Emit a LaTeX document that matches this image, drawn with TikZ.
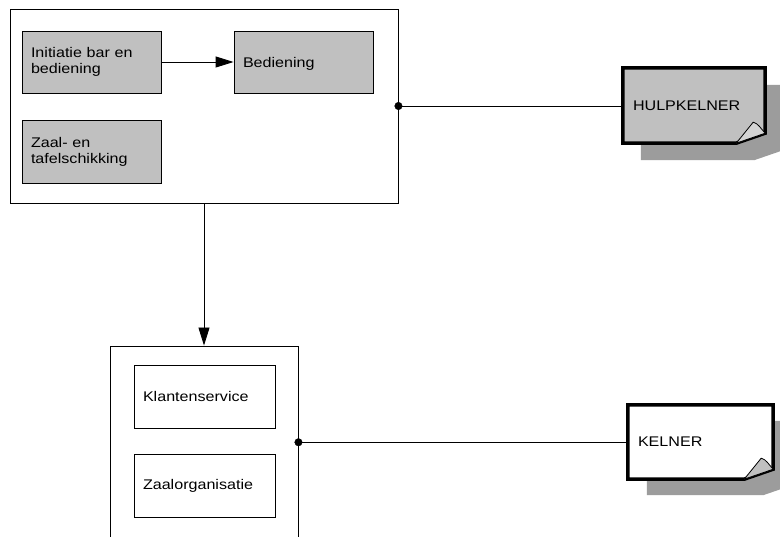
\documentclass[tikz,border=0pt]{standalone}
\usepackage{fontspec}
\setmainfont{Liberation Sans}[FakeStretch=1.15]
\usetikzlibrary{arrows.meta,calc}
\definecolor{boxgray}{HTML}{C0C0C0}
\definecolor{shadowgray}{HTML}{9C9C9C}
\definecolor{flapgray}{HTML}{D4D4D4}
\tikzset{
  frame/.style={draw=black, line width=0.9pt, inner sep=0pt},
  taskbox/.style={draw=black, line width=0.9pt, inner xsep=9pt, inner ysep=0pt, align=left,
    font=\fontsize{14pt}{16pt}\selectfont, anchor=center},
  graytask/.style={taskbox, fill=boxgray},
  notebox/.style={inner xsep=10pt, inner ysep=0pt, align=left, font=\fontsize{14pt}{16pt}\selectfont},
  conn/.style={line width=0.9pt, draw=black},
  dotend/.style={fill=black, draw=black, circle, inner sep=0pt, minimum size=7.5pt},
  notebody/.style={draw=black, line width=3.5pt, line join=miter},
  flap/.style={draw=black, line width=0.8pt, fill=flapgray},
  tip/.style={-{Triangle[length=18pt,width=11pt]}}
}
\begin{document}
\begin{tikzpicture}[x=1pt,y=-1pt]
\useasboundingbox (0,0) rectangle (780,537);
\clip (0,0) rectangle (780,537);
\fill[white] (0,0) rectangle (780,537);

% upper group
\node[frame, minimum width=388pt, minimum height=194pt] (top) at (204,106) {};
\node[graytask, minimum width=139pt, minimum height=62pt, text width=121pt] (init) at (91.5,62) {Initiatie bar en\\bediening};
\node[graytask, minimum width=139pt, minimum height=62pt, text width=121pt, text depth=0pt] (bed) at (303.5,62) {Bediening};
\node[graytask, minimum width=139pt, minimum height=63pt, text width=121pt] (zaal) at (91.5,151.5) {Zaal- en\\tafelschikking};
\draw[conn, tip] (init.east) -- (bed.west);

% lower group
\node[frame, minimum width=188pt, minimum height=192.5pt] (low) at (204,442.25) {};
\node[taskbox, fill=white, minimum width=141pt, minimum height=63pt, text width=123pt] (klant) at (204.5,396.5) {Klantenservice};
\node[taskbox, fill=white, minimum width=141pt, minimum height=63pt, text width=123pt] (zorg) at (204.5,485.5) {Zaalorganisatie};
\draw[conn, tip] (top.south) -- (low.north);

% HULPKELNER note
\node[notebox, minimum width=142pt, minimum height=75pt, text width=122pt] (hk) at (694,105.5) {HULPKELNER};
\fill[shadowgray] ($(hk.north west)+(18,17)$) -- ($(hk.north east)+(18,17)$) -- ($(hk.south east)+(18,7)$) -- ($(hk.south east)+(-11,17)$) -- ($(hk.south west)+(18,17)$) -- cycle;
\draw[notebody, fill=boxgray] (hk.north west) -- (hk.north east) -- ($(hk.south east)+(0,-10)$) -- ($(hk.south east)+(-29,0)$) -- (hk.south west) -- cycle;
\draw[flap] ($(hk.south east)+(-29,0)$) -- ($(hk.south east)+(-12,-21)$) .. controls ($(hk.south east)+(-7,-20)$) and ($(hk.south east)+(-4,-14)$) .. ($(hk.south east)+(0,-10)$) -- cycle;
\node[notebox, text width=122pt] at (hk) {HULPKELNER};

% KELNER note
\node[notebox, minimum width=145pt, minimum height=74pt, text width=125pt] (kel) at (700.5,442) {KELNER};
\fill[shadowgray] ($(kel.north west)+(19,16)$) -- ($(kel.north east)+(19,16)$) -- ($(kel.south east)+(19,6)$) -- ($(kel.south east)+(-10,16)$) -- ($(kel.south west)+(19,16)$) -- cycle;
\draw[notebody, fill=white] (kel.north west) -- (kel.north east) -- ($(kel.south east)+(0,-10)$) -- ($(kel.south east)+(-29,0)$) -- (kel.south west) -- cycle;
\draw[flap, fill=boxgray] ($(kel.south east)+(-29,0)$) -- ($(kel.south east)+(-12,-21)$) .. controls ($(kel.south east)+(-7,-20)$) and ($(kel.south east)+(-4,-14)$) .. ($(kel.south east)+(0,-10)$) -- cycle;
\node[notebox, text width=125pt] at (kel) {KELNER};

% connectors with dots
\draw[conn] (top.east) -- (top.east -| hk.west);
\node[dotend] (d1) at (top.east) {};
\draw[conn] (low.east) -- (low.east -| kel.west);
\node[dotend] (d2) at (low.east) {};
\end{tikzpicture}
\end{document}
